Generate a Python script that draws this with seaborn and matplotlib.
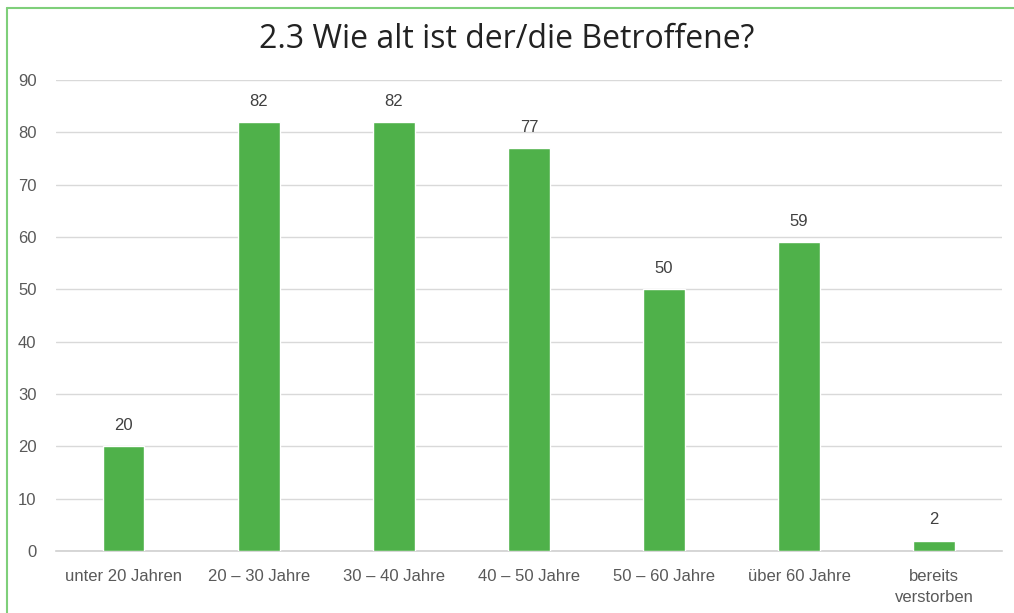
import matplotlib
matplotlib.use("Agg")
import matplotlib.pyplot as plt
import seaborn as sns
import pandas as pd
from matplotlib.lines import Line2D

categories = ["unter 20 Jahren", "20 – 30 Jahre", "30 – 40 Jahre", "40 – 50 Jahre",
              "50 – 60 Jahre", "über 60 Jahre", "bereits\nverstorben"]
values = [20, 82, 82, 77, 50, 59, 2]
yticks = [0, 10, 20, 30, 40, 50, 60, 70, 80, 90]

df = pd.DataFrame({"Alter": categories, "Anzahl": values})

sns.set_style("white")
plt.rcParams["font.family"] = ["Liberation Sans", "DejaVu Sans"]

fig = plt.figure(figsize=(10.14, 6.13), dpi=100)
ax = fig.add_axes([0.0552, 0.1011, 0.9328, 0.7684])

sns.barplot(data=df, x="Alter", y="Anzahl", color="#4fb14a", width=0.31,
            saturation=1, ax=ax, zorder=3)

for i, v in enumerate(values):
    ax.text(i, v + 2.5, str(v), ha="center", va="bottom", fontsize=12, color="#404040")

ax.set_ylim(0, 90)
ax.set_xlim(-0.5, len(categories) - 0.5)
ax.set_yticks(yticks)
ax.yaxis.grid(True, color="#d9d9d9", linewidth=1, zorder=0)
ax.set_xlabel("")
ax.set_ylabel("")
for s in ["top", "right", "left"]:
    ax.spines[s].set_visible(False)
ax.spines["bottom"].set_color("#d0d0d0")
ax.spines["bottom"].set_linewidth(1.2)
ax.tick_params(axis="both", length=0, labelsize=12, colors="#595959")
ax.tick_params(axis="y", pad=14)
ax.tick_params(axis="x", pad=13)
for lbl in ax.get_xticklabels():
    lbl.set_linespacing(1.5)

fig.text(0.5, 0.936, "2.3 Wie alt ist der/die Betroffene?", ha="center", va="center",
         fontsize=23, color="#222222", family=["Open Sans", "DejaVu Sans"])

# green frame (top and left)
fig.add_artist(Line2D([7 / 1014, 1], [1 - 8 / 613, 1 - 8 / 613], transform=fig.transFigure,
                      color="#7fcf7a", linewidth=1.5))
fig.add_artist(Line2D([7 / 1014, 7 / 1014], [0, 1 - 8 / 613], transform=fig.transFigure,
                      color="#7fcf7a", linewidth=1.5))

fig.savefig("out.png", dpi=100)
